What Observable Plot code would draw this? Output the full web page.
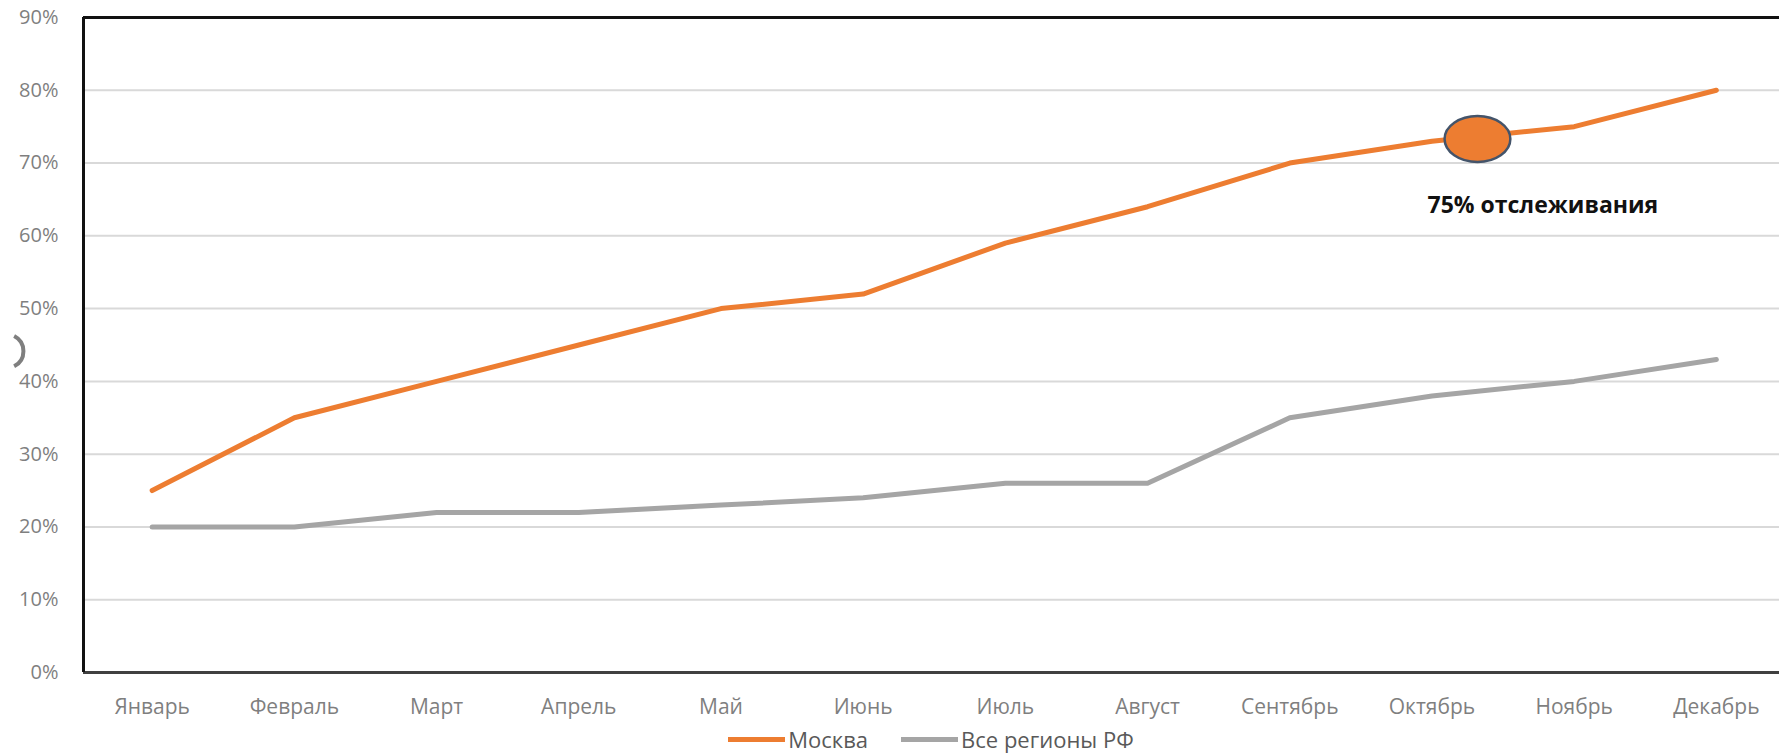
<!DOCTYPE html>
<html>
<head>
<meta charset="utf-8">
<script src="https://cdn.jsdelivr.net/npm/d3@7"></script>
<script src="https://cdn.jsdelivr.net/npm/@observablehq/plot@0.6"></script>
<style>
  html, body { margin: 0; padding: 0; background: #fff; }
  body { width: 1779px; height: 756px; overflow: hidden; font-family: "Open Sans", sans-serif; }
  #legend { display: flex; justify-content: center; align-items: center; padding-left: 83px; height: 34px; font-size: 22px; color: #595959; }
  .item { display: flex; align-items: center; }
  .sw { display: inline-block; width: 57px; height: 5px; margin-right: 3px; }
</style>
</head>
<body>
<div id="chart"></div>
<div id="legend"></div>
<script>
const months = ["Январь","Февраль","Март","Апрель","Май","Июнь","Июль","Август","Сентябрь","Октябрь","Ноябрь","Декабрь"];
const moscow = [25, 35, 40, 45, 50, 52, 59, 64, 70, 73, 75, 80];
const russia = [20, 20, 22, 22, 23, 24, 26, 26, 35, 38, 40, 43];
const yTicks = [0, 10, 20, 30, 40, 50, 60, 70, 80, 90];
const gridTicks = [10, 20, 30, 40, 50, 60, 70, 80];
const seriesNames = ["Москва", "Все регионы РФ"];
const seriesColors = ["#ed7d31", "#a5a5a5"];
// annotation marker (between Oct and Nov on the Moscow line)
const markerX = [9.32];
const markerY = [73.3];
const noteX = [9.78];
const noteY = [64.2];
const noteText = ["75% отслеживания"];
// stray arc at the left edge
const arcX = [-1.025];
const arcY = [44.15];

const xDomain = [-0.483, 11.444];
const idx = d3.range(months.length);
const dataM = idx.map(i => ({i, v: moscow[i]}));
const dataR = idx.map(i => ({i, v: russia[i]}));

const ellipse = {
  draw(ctx, size) {
    const r = Math.sqrt(size / Math.PI);
    const rx = r * 1.43, ry = r, k = 0.5523;
    ctx.moveTo(rx, 0);
    ctx.bezierCurveTo(rx, ry * k, rx * k, ry, 0, ry);
    ctx.bezierCurveTo(-rx * k, ry, -rx, ry * k, -rx, 0);
    ctx.bezierCurveTo(-rx, -ry * k, -rx * k, -ry, 0, -ry);
    ctx.bezierCurveTo(rx * k, -ry, rx, -ry * k, rx, 0);
    ctx.closePath();
  }
};
const arcSym = {
  draw(ctx, size) {
    const r = Math.sqrt(size / Math.PI);
    ctx.moveTo(r * Math.cos(-1.1), r * Math.sin(-1.1));
    ctx.arc(0, 0, r, -1.1, 1.1);
  }
};

const plot = Plot.plot({
  width: 1779,
  height: 722,
  marginLeft: 83,
  marginRight: 0,
  marginTop: 17,
  marginBottom: 50,
  style: {fontFamily: "'Open Sans', sans-serif", fontSize: "20px", color: "#7f7f7f", background: "#fff"},
  x: {type: "linear", domain: xDomain},
  y: {domain: [0, 90]},
  marks: [
    Plot.ruleY(gridTicks, {stroke: "#d9d9d9", strokeWidth: 2}),
    Plot.ruleY([0], {stroke: "#404040", strokeWidth: 3}),
    Plot.ruleY([90], {stroke: "#111", strokeWidth: 3}),
    Plot.ruleX([xDomain[0]], {stroke: "#111", strokeWidth: 3}),
    Plot.axisY(yTicks, {tickSize: 0, tickPadding: 25, tickFormat: d => d + "%", label: null, fill: "#7f7f7f"}),
    Plot.axisX(idx, {tickSize: 0, tickPadding: 27, tickFormat: i => months[i], label: null, fill: "#7f7f7f", fontSize: 21}),
    Plot.lineY(dataR, {x: "i", y: "v", stroke: seriesColors[1], strokeWidth: 5, strokeLinejoin: "round", strokeLinecap: "round"}),
    Plot.lineY(dataM, {x: "i", y: "v", stroke: seriesColors[0], strokeWidth: 5, strokeLinejoin: "round", strokeLinecap: "round"}),
    Plot.dot(markerX.map((x, k) => ({x, y: markerY[k]})), {x: "x", y: "y", r: 23, symbol: ellipse, fill: "#ed7d31", stroke: "#44546a", strokeWidth: 2.5}),
    Plot.text(noteX.map((x, k) => ({x, y: noteY[k], t: noteText[k]})), {x: "x", y: "y", text: "t", fill: "#111", fontSize: 23, fontWeight: "bold"}),
    Plot.dot(arcX.map((x, k) => ({x, y: arcY[k]})), {x: "x", y: "y", r: 17, symbol: arcSym, fill: "none", stroke: "#7f7f7f", strokeWidth: 4})
  ]
});
document.getElementById("chart").appendChild(plot);

const legend = document.getElementById("legend");
seriesNames.forEach((name, k) => {
  const it = document.createElement("span");
  it.className = "item";
  it.style.marginRight = k === 0 ? "33px" : "0";
  const sw = document.createElement("span");
  sw.className = "sw";
  sw.style.background = seriesColors[k];
  it.appendChild(sw);
  it.appendChild(document.createTextNode(name));
  legend.appendChild(it);
});
</script>
</body>
</html>
